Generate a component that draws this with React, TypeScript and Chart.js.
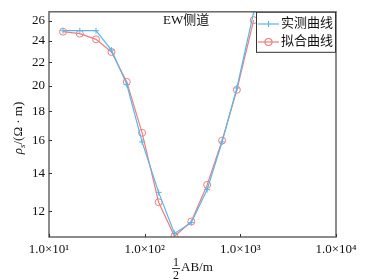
import React, { useEffect, useRef } from "react";
import { Chart, registerables } from "chart.js";

Chart.register(...registerables);

const xValues = [14, 21, 31, 45, 65, 94, 140, 205, 307, 450, 645, 920, 1380];
const measured = [25.0, 25.0, 25.0, 23.1, 20.1, 15.9, 12.95, 10.96, 11.45, 13.1, 15.9, 19.8, 27.0];
const fitted = [24.9, 24.7, 24.14, 22.93, 20.3, 16.5, 12.44, 10.83, 11.5, 13.35, 15.99, 19.66, 26.1];
const xTicks = [10, 100, 1000, 10000];
const xTickLabels = ["1.0×10¹", "1.0×10²", "1.0×10³", "1.0×10⁴"];
const yTicks = [12, 14, 16, 18, 20, 22, 24, 26];
const seriesNames = ["实测曲线", "拟合曲线"];
const titleText = "EW侧道";

const BLUE = "#5bb6e8";
const RED = "#ee7d7d";
const FONT = '"Liberation Serif", "Noto Sans CJK SC", serif';

const decorPlugin = {
  id: "decor",
  afterDraw(chart: any) {
    const { ctx, chartArea } = chart;
    const { left, right, top, bottom } = chartArea;
    const xs = chart.scales.x;
    const ys = chart.scales.y;
    ctx.save();
    // frame
    ctx.strokeStyle = "#666";
    ctx.lineWidth = 1.5;
    ctx.strokeRect(left, top, right - left, bottom - top);
    // inward ticks
    ctx.lineWidth = 1;
    ctx.strokeStyle = "#333";
    ctx.beginPath();
    xTicks.forEach((v) => {
      const px = Math.round(xs.getPixelForValue(v)) + 0.5;
      ctx.moveTo(px, bottom);
      ctx.lineTo(px, bottom - 3);
    });
    yTicks.forEach((v) => {
      const py = Math.round(ys.getPixelForValue(v)) + 0.5;
      ctx.moveTo(left, py);
      ctx.lineTo(left + 3, py);
    });
    ctx.stroke();

    // title inside plot
    ctx.fillStyle = "#111";
    ctx.font = `13px ${FONT}`;
    ctx.textAlign = "left";
    ctx.textBaseline = "middle";
    ctx.fillText(titleText, 163, 21);

    // legend
    const lx = 256, ly = top, lw = right - lx, lh = 41;
    ctx.fillStyle = "#fff";
    ctx.fillRect(lx, ly, lw, lh);
    ctx.strokeStyle = "#333";
    ctx.lineWidth = 1;
    ctx.strokeRect(lx + 0.5, ly + 0.5, lw - 1, lh - 1);
    const rows = [
      { y: 24, color: BLUE, marker: "cross" },
      { y: 42, color: RED, marker: "circle" },
    ];
    rows.forEach((r, i) => {
      ctx.strokeStyle = r.color;
      ctx.lineWidth = 1.2;
      ctx.beginPath();
      ctx.moveTo(258, r.y);
      ctx.lineTo(279, r.y);
      ctx.stroke();
      ctx.beginPath();
      if (r.marker === "cross") {
        ctx.moveTo(268.5, r.y - 3);
        ctx.lineTo(268.5, r.y + 3);
      } else {
        ctx.arc(268.5, r.y, 3.5, 0, Math.PI * 2);
      }
      ctx.stroke();
      ctx.fillStyle = "#111";
      ctx.font = `13px ${FONT}`;
      ctx.textBaseline = "middle";
      ctx.fillText(seriesNames[i], 281, r.y);
    });

    // x axis title: 1/2 AB/m
    ctx.fillStyle = "#111";
    ctx.font = `12px ${FONT}`;
    ctx.textAlign = "center";
    ctx.textBaseline = "alphabetic";
    ctx.fillText("1", 176, 266);
    ctx.fillText("2", 176, 279);
    ctx.strokeStyle = "#111";
    ctx.lineWidth = 0.8;
    ctx.beginPath();
    ctx.moveTo(172, 268.5);
    ctx.lineTo(180, 268.5);
    ctx.stroke();
    ctx.font = `13px ${FONT}`;
    ctx.textAlign = "left";
    ctx.textBaseline = "middle";
    ctx.fillText("AB/m", 181, 268);

    // y axis title
    ctx.save();
    ctx.translate(18, 128);
    ctx.rotate(-Math.PI / 2);
    const partA = "ρ";
    const partB = "s";
    const partC = "/(Ω · m)";
    ctx.font = `italic 13px ${FONT}`;
    const wA = ctx.measureText(partA).width;
    ctx.font = `italic 9px ${FONT}`;
    const wB = ctx.measureText(partB).width;
    ctx.font = `13px ${FONT}`;
    const wC = ctx.measureText(partC).width;
    let cx = -(wA + wB + wC) / 2;
    ctx.textAlign = "left";
    ctx.textBaseline = "alphabetic";
    ctx.font = `italic 13px ${FONT}`;
    ctx.fillText(partA, cx, 4);
    cx += wA;
    ctx.font = `italic 9px ${FONT}`;
    ctx.fillText(partB, cx, 7);
    cx += wB;
    ctx.font = `13px ${FONT}`;
    ctx.fillText(partC, cx, 4);
    ctx.restore();

    ctx.restore();
  },
};

export default function App() {
  const ref = useRef<HTMLCanvasElement | null>(null);
  useEffect(() => {
    if (!ref.current) return;
    const chart = new Chart(ref.current, {
      type: "line",
      data: {
        datasets: [
          {
            label: seriesNames[0],
            data: xValues.map((x, i) => ({ x, y: measured[i] })),
            borderColor: BLUE,
            backgroundColor: BLUE,
            borderWidth: 1.2,
            pointStyle: "cross",
            pointRadius: 3,
            pointBorderWidth: 1,
            pointBorderColor: BLUE,
          },
          {
            label: seriesNames[1],
            data: xValues.map((x, i) => ({ x, y: fitted[i] })),
            borderColor: RED,
            backgroundColor: "rgba(0,0,0,0)",
            borderWidth: 1.2,
            pointStyle: "circle",
            pointRadius: 3.5,
            pointBorderWidth: 1,
            pointBorderColor: RED,
            pointBackgroundColor: "rgba(0,0,0,0)",
          },
        ],
      },
      options: {
        responsive: false,
        animation: false,
        layout: { padding: { left: 0, right: 32, top: 11, bottom: 0 } },
        plugins: {
          legend: { display: false },
          tooltip: { enabled: false },
        },
        scales: {
          x: {
            type: "logarithmic",
            min: 10,
            max: 10000,
            grid: { display: false, drawTicks: false },
            border: { display: false },
            afterBuildTicks: (s: any) => {
              s.ticks = xTicks.map((v) => ({ value: v }));
            },
            afterFit: (s: any) => {
              s.height = 43;
            },
            ticks: {
              autoSkip: false,
              maxRotation: 0,
              padding: 5,
              color: "#111",
              font: { family: FONT, size: 13 },
              callback: (v: any) => {
                const i = xTicks.indexOf(Number(v));
                return i >= 0 ? xTickLabels[i] : "";
              },
            },
          },
          y: {
            type: "logarithmic",
            min: 10.8,
            max: 27,
            grid: { display: false, drawTicks: false },
            border: { display: false },
            afterBuildTicks: (s: any) => {
              s.ticks = yTicks.map((v) => ({ value: v }));
            },
            afterFit: (s: any) => {
              s.width = 49;
            },
            ticks: {
              autoSkip: false,
              padding: 4,
              color: "#111",
              font: { family: FONT, size: 13 },
              callback: (v: any) => String(v),
            },
          },
        },
      },
      plugins: [decorPlugin],
    } as any);
    return () => chart.destroy();
  }, []);
  return (
    <div style={{ position: "fixed", left: 0, top: 0, width: 368, height: 280, background: "#fff" }}>
      <canvas ref={ref} width={368} height={280} style={{ display: "block", width: 368, height: 280 }} />
    </div>
  );
}
